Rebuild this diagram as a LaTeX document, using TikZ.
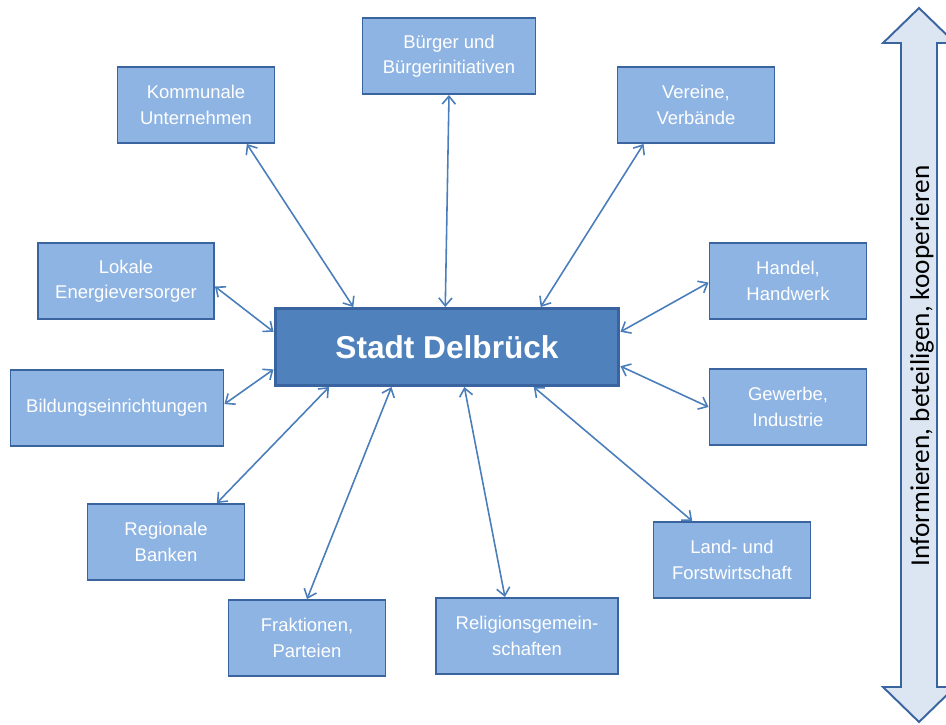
\documentclass[tikz,border=0pt]{standalone}
\usepackage{fontspec}
\setmainfont{Liberation Sans}
\newfontfamily\calibri{Carlito}
\usetikzlibrary{calc,arrows.meta}

\definecolor{boxfill}{HTML}{8EB4E3}
\definecolor{hubfill}{HTML}{4F81BD}
\definecolor{boxline}{HTML}{3A64A0}
\definecolor{linkcol}{HTML}{4A7EBB}
\definecolor{bandfill}{HTML}{DCE6F2}

\tikzset{
  box/.style={draw=boxline, line width=1.1pt, fill=boxfill, text=white,
    minimum width=3.14cm, minimum height=1.52cm, align=center,
    font=\fontsize{10.5}{14.5}\selectfont, inner sep=2pt},
  hub/.style={box, fill=hubfill, line width=1.7pt, minimum width=6.88cm,
    minimum height=1.54cm, font=\fontsize{18}{20}\selectfont\bfseries},
  link/.style={draw=linkcol, line width=0.9pt,
    {Straight Barb[length=4.5pt,width=7.5pt]}-{Straight Barb[length=4.5pt,width=7.5pt]}}
}

\begin{document}
\begin{tikzpicture}[x=0.02cm,y=-0.02cm]
				%%%%% NODES %%%%%
				\useasboundingbox (0,0) rectangle (946,724);

				\node[hub] (stadt) at (447,347) {Stadt Delbrück};

				\node[box, minimum width=3.46cm] (buerger) at (449,56) {Bürger und\\Bürgerinitiativen};
				\node[box] (kommunal) at (196,105) {Kommunale\\Unternehmen};
				\node[box] (vereine) at (696,105) {Vereine,\\Verbände};
				\node[box, minimum width=3.52cm] (energie) at (126,281) {Lokale\\Energieversorger};
				\node[box] (handel) at (788,281) {Handel,\\Handwerk};
				\node[box, minimum width=4.26cm] (bildung) at (117,408) {Bildungseinrichtungen};
				\node[box] (gewerbe) at (788,407) {Gewerbe,\\Industrie};
				\node[box] (banken) at (166,542) {Regionale\\Banken};
				\node[box] (land) at (732,560) {Land- und\\Forstwirtschaft};
				\node[box] (fraktion) at (307,638) {Fraktionen,\\Parteien};
				\node[box, minimum width=3.64cm] (religion) at (527,636) {Religionsgemein-\\schaften};

				%%%%% LINKS %%%%%
				\draw[link] ($(buerger.south west)!0.5!(buerger.south east)$) -- ($(stadt.north west)!0.495!(stadt.north east)$);
				\draw[link] ($(kommunal.south west)!0.82!(kommunal.south east)$) -- ($(stadt.north west)!0.23!(stadt.north east)$);
				\draw[link] ($(vereine.south west)!0.17!(vereine.south east)$) -- ($(stadt.north west)!0.77!(stadt.north east)$);
				\draw[link] ($(energie.north east)!0.57!(energie.south east)$) -- ($(stadt.north west)!0.31!(stadt.south west)$);
				\draw[link] ($(handel.north west)!0.52!(handel.south west)$) -- ($(stadt.north east)!0.31!(stadt.south east)$);
				\draw[link] ($(bildung.north east)!0.45!(bildung.south east)$) -- ($(stadt.north west)!0.78!(stadt.south west)$);
				\draw[link] ($(gewerbe.north west)!0.5!(gewerbe.south west)$) -- ($(stadt.north east)!0.74!(stadt.south east)$);
				\draw[link] ($(banken.north west)!0.82!(banken.north east)$) -- ($(stadt.south west)!0.16!(stadt.south east)$);
				\draw[link] ($(land.north west)!0.25!(land.north east)$) -- ($(stadt.south west)!0.75!(stadt.south east)$);
				\draw[link] ($(fraktion.north west)!0.5!(fraktion.north east)$) -- ($(stadt.south west)!0.34!(stadt.south east)$);
				\draw[link] ($(religion.north west)!0.38!(religion.north east)$) -- ($(stadt.south west)!0.55!(stadt.south east)$);

				%%%%% BAND %%%%%
				\draw[draw=boxline, line width=1.1pt, fill=bandfill, line join=miter]
				  (919,8) -- (955,43) -- (937,43) -- (937,687) -- (955,687) -- (919,722)
				  -- (883,687) -- (901,687) -- (901,43) -- (883,43) -- cycle;
				\node[rotate=90, font=\calibri\fontsize{15.5}{18}\selectfont] (band) at (922,366) {Informieren, beteiligen, kooperieren};
				%%%%% END %%%%%
\end{tikzpicture}
\end{document}
